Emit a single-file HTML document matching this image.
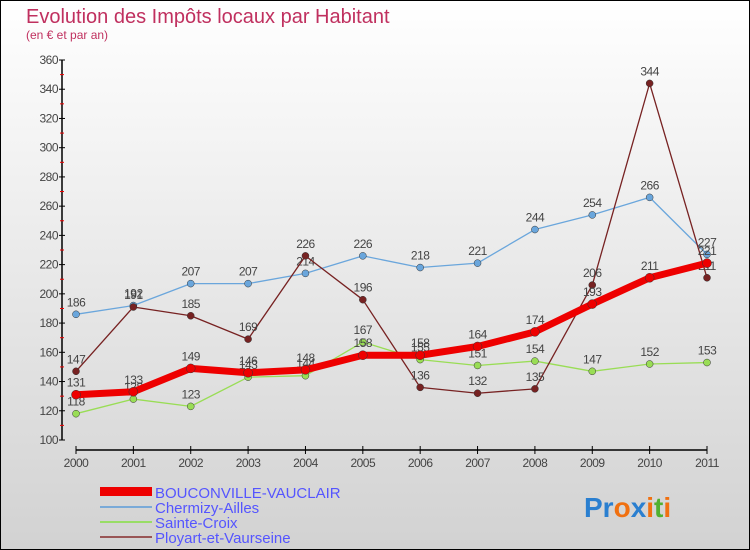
<!DOCTYPE html>
<html><head><meta charset="utf-8"><style>
body{margin:0;width:750px;height:550px;overflow:hidden}
svg{display:block;font-family:"Liberation Sans",sans-serif}
</style></head><body>
<svg id="c" width="750" height="550">
<defs><linearGradient id="bg" x1="0" y1="0" x2="0" y2="1"><stop offset="0" stop-color="#ffffff"/><stop offset="1" stop-color="#d2d2d2"/></linearGradient></defs>
<rect x="0.5" y="0.5" width="749" height="549" fill="url(#bg)" stroke="#000"/>
<text x="26" y="23" font-size="20" fill="#c0305f">Evolution des Impôts locaux par Habitant</text>
<text x="26" y="39" font-size="12" fill="#c0305f">(en € et par an)</text>
<g id="axes"></g><g id="series"></g>
<g>
<rect x="100" y="487" width="52" height="9" fill="#e00"/>
<text x="155" y="498" font-size="15" fill="#5555ff">BOUCONVILLE-VAUCLAIR</text>
<line x1="100" y1="507" x2="152" y2="507" stroke="#7aaad8" stroke-width="2"/>
<text x="155" y="513" font-size="15" fill="#5555ff">Chermizy-Ailles</text>
<line x1="100" y1="522" x2="152" y2="522" stroke="#99dd66" stroke-width="2"/>
<text x="155" y="528" font-size="15" fill="#5555ff">Sainte-Croix</text>
<line x1="100" y1="537" x2="152" y2="537" stroke="#995555" stroke-width="2"/>
<text x="155" y="543" font-size="15" fill="#5555ff">Ployart-et-Vaurseine</text>
</g>
<text x="584" y="517" font-size="28" font-weight="bold"><tspan fill="#2a7fd0">Pr</tspan><tspan fill="#f07010">o</tspan><tspan fill="#2a7fd0">x</tspan><tspan fill="#f07010">i</tspan><tspan fill="#50b030">t</tspan><tspan fill="#f07010">i</tspan></text>
</svg>
<script>
const years=[2000,2001,2002,2003,2004,2005,2006,2007,2008,2009,2010,2011];
const yTicks=[100,120,140,160,180,200,220,240,260,280,300,320,340,360];
const bouconville=[131,133,149,146,148,158,158,164,174,193,211,221];
const chermizy=[186,192,207,207,214,226,218,221,244,254,266,227];
const sainteCroix=[118,128,123,143,144,167,155,151,154,147,152,153];
const ployart=[147,191,185,169,226,196,136,132,135,206,344,211];
const NS="http://www.w3.org/2000/svg";
const X=i=>76+i*(707-76)/11;
const Y=v=>440-(v-100)*(380/260);
function mk(t,a,p){const e=document.createElementNS(NS,t);for(const k in a)e.setAttribute(k,a[k]);p.appendChild(e);return e;}
const ax=document.getElementById('axes');
let l=mk('line',{x1:62,y1:Y(360),x2:62,y2:Y(100),stroke:'#000','stroke-width':1.5},ax);


yTicks.forEach((v,i)=>{
  mk('line',{x1:59,x2:65,y1:Y(v),y2:Y(v),stroke:'#000'},ax);
  if(i<yTicks.length-1)mk('line',{x1:60,x2:64,y1:Y(v+10),y2:Y(v+10),stroke:'#e00'},ax);
  const t=mk('text',{x:58,y:Y(v)+4,'font-size':12,'text-anchor':'end',fill:'#444','letter-spacing':'-0.5'},ax);
  t.textContent=v;
  
  
});
l=mk('line',{x1:X(0),y1:450,x2:X(11),y2:450,stroke:'#000','stroke-width':1.5},ax);


years.forEach((y,i)=>{
  mk('line',{x1:X(i),x2:X(i),y1:446,y2:454,stroke:'#000'},ax);
  const t=mk('text',{x:X(i),y:467,'font-size':12,'text-anchor':'middle',fill:'#444','letter-spacing':'-0.5'},ax);
  t.textContent=y;
  
  
});
const sg=document.getElementById('series');
function series(data,color,w,dot,name){
  const g=mk('g',{},sg);
  
  
  mk('polyline',{points:data.map((v,i)=>X(i)+','+Y(v)).join(' '),fill:'none',stroke:color,'stroke-width':w,'stroke-linejoin':'round'},g);
  data.forEach((v,i)=>{
    const c=mk('circle',{cx:X(i),cy:Y(v),r:dot,fill:color,stroke:'#333','stroke-width':0.5},g);
    
    
    const t=mk('text',{x:X(i),y:Y(v)-8,'font-size':12,'text-anchor':'middle',fill:'#444','letter-spacing':'-0.5'},g);
    t.textContent=v;
    
    
  });
}
series(chermizy,'#6aa6dc',1.3,3.5,'chermizy-series');
series(sainteCroix,'#99dd55',1.3,3.5,'sainte-croix-series');
series(ployart,'#772222',1.3,3.5,'ployart-series');
series(bouconville,'#ee0000',7,4.5,'bouconville-series');
</script>
</body></html>
